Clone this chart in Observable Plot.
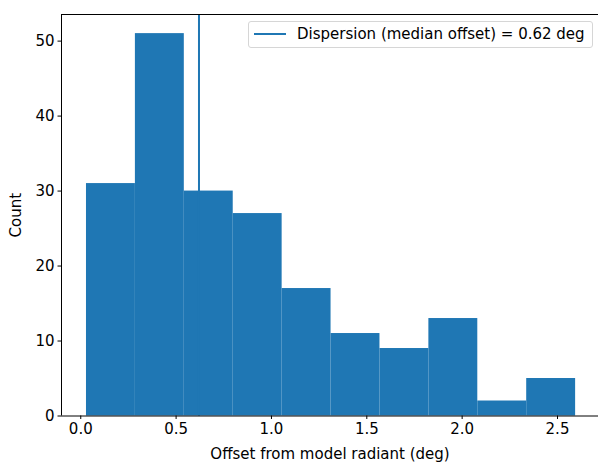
<!DOCTYPE html>
<html>
<head>
<meta charset="utf-8">
<script src="https://cdn.jsdelivr.net/npm/d3@7"></script>
<script src="https://cdn.jsdelivr.net/npm/@observablehq/plot@0.6"></script>
<style>
  html, body { margin: 0; padding: 0; background: #fff; }
  #wrap { position: relative; width: 598px; height: 462px; font-family: "DejaVu Sans", sans-serif; }
  #legend {
    position: absolute; left: 248px; top: 21px; width: 343px; height: 25px;
    border: 1px solid #d6d6d6; border-radius: 3px; background: rgba(255,255,255,0.8);
    box-sizing: content-box;
  }
  #legend svg { position: absolute; left: 5px; top: 0; }
  #legend span { position: absolute; left: 48px; top: 3px; font-size: 15px; color: #000; white-space: nowrap; }
</style>
</head>
<body>
<div id="wrap"></div>
<script>
// Histogram bin edges (deg) and counts
const binEdges = [0.03, 0.2865, 0.543, 0.7995, 1.056, 1.3125, 1.569, 1.8255, 2.082, 2.3385, 2.595];
const counts = [31, 51, 30, 27, 17, 11, 9, 13, 2, 5];
const medianOffset = 0.62;
const xTicks = [0.0, 0.5, 1.0, 1.5, 2.0, 2.5];
const yTicks = [0, 10, 20, 30, 40, 50];
const legendLabel = "Dispersion (median offset) = 0.62 deg";

const bins = counts.map((c, i) => ({x1: binEdges[i], x2: binEdges[i + 1], count: c}));
const color = "#1f77b4";

const plot = Plot.plot({
  width: 598,
  height: 462,
  marginTop: 14,
  marginBottom: 46.5,
  marginLeft: 61,
  marginRight: 0,
  style: {fontFamily: "DejaVu Sans", fontSize: "15px", color: "#000", background: "#fff"},
  x: {domain: [-0.101, 2.715]},
  y: {domain: [0, 53.55]},
  marks: [
    Plot.rectY(bins, {x1: "x1", x2: "x2", y: "count", fill: color}),
    Plot.ruleX([medianOffset], {stroke: color, strokeWidth: 2}),
    Plot.ruleX([-0.101], {stroke: "#000", strokeWidth: 1}),
    Plot.ruleY([0], {stroke: "#000", strokeWidth: 1}),
    Plot.ruleY([53.55], {stroke: "#000", strokeWidth: 1}),
    Plot.axisX({ticks: xTicks, tickFormat: d3.format(".1f"), tickSize: 3.5, tickPadding: 3.5,
      label: "Offset from model radiant (deg)", labelAnchor: "center", labelArrow: "none", labelOffset: 43}),
    Plot.axisY({ticks: yTicks, tickSize: 3.5, tickPadding: 3.5,
      label: "Count", labelAnchor: "center", labelArrow: "none", labelOffset: 51})
  ]
});

const wrap = document.getElementById("wrap");
wrap.appendChild(plot);
const leg = document.createElement("div");
leg.id = "legend";
leg.innerHTML = `<svg width="34" height="25"><line x1="0" x2="32" y1="12" y2="12" stroke="${color}" stroke-width="2"/></svg><span>${legendLabel}</span>`;
wrap.appendChild(leg);
</script>
</body>
</html>
